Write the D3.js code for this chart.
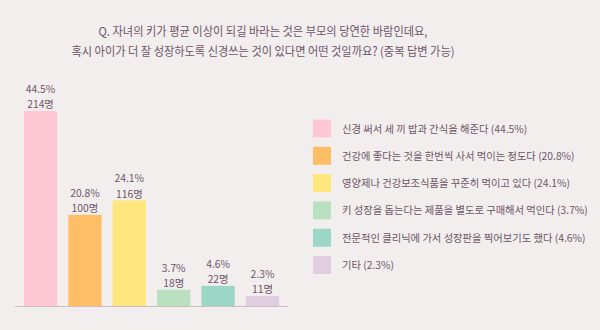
<!DOCTYPE html>
<html><head><meta charset="utf-8">
<script src="https://cdn.jsdelivr.net/npm/d3@7"></script>
<style>
html,body{margin:0;padding:0;background:#f2eeee;}
svg{display:block;font-family:"Noto Sans CJK KR","Noto Sans",sans-serif;}
</style></head><body>
<script>
const categories = [
  "신경 써서 세 끼 밥과 간식을 해준다",
  "건강에 좋다는 것을 한번씩 사서 먹이는 정도다",
  "영양제나 건강보조식품을 꾸준히 먹이고 있다",
  "키 성장을 돕는다는 제품을 별도로 구매해서 먹인다",
  "전문적인 클리닉에 가서 성장판을 찍어보기도 했다",
  "기타"
];
const percents = [44.5, 20.8, 24.1, 3.7, 4.6, 2.3];
const counts = [214, 100, 116, 18, 22, 11];
const colors = ["#ffc7d3", "#fdbe66", "#fee67f", "#bae1bf", "#9bd6c7", "#e0cde0"];
const titleLines = [
  "Q. 자녀의 키가 평균 이상이 되길 바라는 것은 부모의 당연한 바람인데요,",
  "혹시 아이가 더 잘 성장하도록 신경쓰는 것이 있다면 어떤 것일까요? (중복 답변 가능)"
];
const titleWidths = [329, 383];

const W = 600, H = 330;
const textColor = "#6d5467";
const svg = d3.select("body").append("svg").attr("width", W).attr("height", H);
svg.append("rect").attr("width", W).attr("height", H).attr("fill", "#f2eeee");

svg.selectAll("text.title").data(titleLines).join("text")
  .attr("class", "title")
  .attr("x", 263).attr("y", (d, i) => 36 + i * 20)
  .attr("text-anchor", "middle")
  .attr("font-size", 12.3).attr("fill", textColor)
  .attr("textLength", (d, i) => titleWidths[i]).attr("lengthAdjust", "spacingAndGlyphs")
  .text(d => d);

const baseY = 306;
const x = d3.scaleBand().domain(d3.range(categories.length)).range([15, 288]).paddingInner(0.25).paddingOuter(0.2);
const y = d3.scaleLinear().domain([0, 44.5]).range([baseY, 111]);

svg.selectAll("rect.bar").data(percents).join("rect")
  .attr("class", "bar")
  .attr("x", (d, i) => x(i)).attr("width", x.bandwidth())
  .attr("y", d => y(d)).attr("height", d => baseY - y(d))
  .attr("fill", (d, i) => colors[i]);

svg.append("line").attr("x1", 15).attr("x2", 288).attr("y1", baseY + 0.5).attr("y2", baseY + 0.5)
  .attr("stroke", "#cbbfc3").attr("stroke-width", 1);

const lab = svg.selectAll("g.lab").data(percents).join("g").attr("class", "lab")
  .attr("transform", (d, i) => `translate(${x(i) + x.bandwidth() / 2},${y(d)})`);
lab.append("text").attr("y", -18).attr("text-anchor", "middle").attr("font-size", 10.3)
  .attr("fill", textColor).text(d => d + "%");
lab.append("text").attr("y", -2.8).attr("text-anchor", "middle").attr("font-size", 10.3)
  .attr("fill", textColor).text((d, i) => counts[i] + "명");

const lg = svg.selectAll("g.leg").data(categories).join("g").attr("class", "leg")
  .attr("transform", (d, i) => `translate(313,${119.5 + i * 27.3})`);
lg.append("rect").attr("width", 18).attr("height", 18).attr("fill", (d, i) => colors[i]);
lg.append("text").attr("x", 29).attr("y", 13).attr("font-size", 10.3).attr("fill", textColor)
  .text((d, i) => `${d} (${percents[i]}%)`);
</script>
</body></html>
